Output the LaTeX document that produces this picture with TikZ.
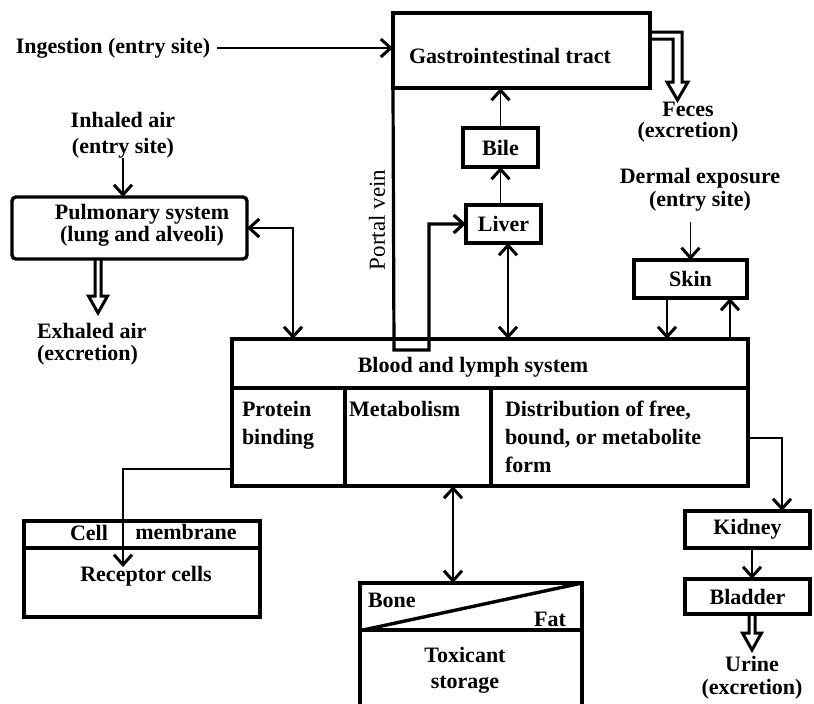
\documentclass[tikz,border=0pt]{standalone}
\usepackage{fontspec}
\setmainfont{Liberation Serif}
\usetikzlibrary{arrows.meta,fit,calc}
\begin{document}
\begin{tikzpicture}[x=0.5pt,y=-0.5pt,
  box/.style={draw, line width=1.7pt, inner sep=0pt, outer sep=0pt},
  heavy/.style={line width=1.7pt},
  txt/.style={font=\fontsize{11}{13}\selectfont\bfseries, inner sep=0pt, outer sep=0pt, align=center},
  tip/.tip={Straight Barb[length=5pt,width=9pt,line width=1.5pt]},
  arr/.style={line width=0.8pt, -tip},
  darr/.style={line width=0.8pt, tip-tip},
  thinarr/.style={line width=0.6pt, -tip},
  hollow/.style={line width=1.5pt, line join=miter},
  pics/fatdown/.style={code={
    \draw[hollow] (-3,0) -- (-3,{#1-17}) -- (-9.5,{#1-17}) -- (0,#1) -- (9.5,{#1-17}) -- (3,{#1-17}) -- (3,0);
  }}
]
\useasboundingbox (0,0) rectangle (814,703);

% ---------- boxes ----------
\node[box, fit={(393,13)(650,88)}] (gi) {};
\node[txt] (gitext) at (510,56) {Gastrointestinal tract};
\node[box, fit={(463,128)(538,167)}, label={[txt]center:Bile}] (bile) {};
\node[box, fit={(466,205)(541,243)}, label={[txt]center:Liver}] (liver) {};
\node[box, fit={(634,260)(747,298)}, label={[txt]center:Skin}] (skin) {};
\node[box, rounded corners=2pt, fit={(12,197)(247,259)}] (pulm) {};
\node[txt, font=\fontsize{11}{10}\selectfont\bfseries] (pulmtext) at (142,225) {Pulmonary system\\(lung and alveoli)};

\node[box, fit={(232,339)(748,486)}] (blood) {};
\draw[heavy] (232,388) -- (748,388);
\draw[heavy] (345,388) -- (345,486);
\draw[heavy] (491,388) -- (491,486);
\node[txt] (bloodtext) at (473,367) {Blood and lymph system};
\node[txt, font=\fontsize{11}{14}\selectfont\bfseries, align=left, anchor=north west] (protein) at (242,401) {Protein\\binding};
\node[txt, anchor=north west] (metab) at (349,401) {Metabolism};
\node[txt, font=\fontsize{11}{14}\selectfont\bfseries, align=left, anchor=north west] (distr) at (505,401) {Distribution of free,\\bound, or metabolite\\form};

\node[box, fit={(685,511)(810,548)}, label={[txt]center:Kidney}] (kidney) {};
\node[box, fit={(685,579)(810,614)}, label={[txt]center:Bladder}] (bladder) {};

\node[box, fit={(24,521)(260,617)}] (cell) {};
\draw[heavy] (24,548) -- (260,548);
\node[txt] (celltext) at (89,533) {Cell};
\node[txt] (membtext) at (186,532) {membrane};
\node[txt] (receptor) at (146,576) {Receptor cells};

\node[inner sep=0pt, outer sep=0pt, fit={(360,583)(582,712)}] (stor) {};
\draw[heavy] (stor.south west) -- (stor.north west) -- (stor.north east) -- (stor.south east);
\draw[heavy] (360,630) -- (582,630);
\draw[heavy] (363,630) -- (stor.north east);
\node[txt, anchor=west] (bone) at (368,600) {Bone};
\node[txt, anchor=east] (fat) at (566,619) {Fat};
\node[txt] (toxic) at (465,670) {Toxicant\\storage};

% ---------- free texts ----------
\node[txt] (ingest) at (113,48) {Ingestion (entry site)};
\node[txt] (inhaled) at (123,135) {Inhaled air\\(entry site)};
\node[txt, font=\fontsize{11}{11}\selectfont\bfseries, align=left, anchor=west] (exhaled) at (37,344) {Exhaled air\\(excretion)};
\node[txt, font=\fontsize{11}{10.5}\selectfont\bfseries] (feces) at (688,122) {Feces\\(excretion)};
\node[txt, font=\fontsize{11}{11.5}\selectfont\bfseries] (dermal) at (700,190) {Dermal exposure\\(entry site)};
\node[txt, font=\fontsize{11}{11.5}\selectfont\bfseries] (urine) at (752,678) {Urine\\(excretion)};
\node[font=\fontsize{11.5}{13}\selectfont, rotate=90, inner sep=0pt] (portal) at (377,220) {Portal vein};

% ---------- connectors ----------
\draw[arr, shorten <=3.5pt] (ingest.east) -- (ingest.east -| gi.west);
\draw[arr] (inhaled.south) -- (inhaled.south |- pulm.north);
\draw[darr] (pulm.east) -| ($(blood.north west)+(61,0)$);
\draw[arr] (bile.north) -- (bile.north |- gi.south);
\draw[arr] (bile.south |- liver.north) -- (bile.south);
\draw[darr] ($(liver.south)+(4.5,0)$) -- ($(liver.south |- blood.north)+(4.5,0)$);
\draw[arr, shorten <=5pt] (skin.north |- dermal.south) -- (skin.north);
\draw[arr] ($(skin.south)+(-23.5,0)$) -- ($(skin.south |- blood.north)+(-23.5,0)$);
\draw[arr] ($(skin.south |- blood.north)+(39.5,0)$) -- ($(skin.south)+(39.5,0)$);
\draw[line width=1.6pt, -{Straight Barb[length=5pt,width=9pt,line width=1.6pt]}]
  (gi.south west) -- (394,350) -- (429,350) |- (liver.west);
\draw[thinarr] ($(blood.west)+(0,56.5)$) -| ($(cell.north west)+(99,46)$);
\draw[thinarr] ($(blood.east)+(0,25.5)$) -| ($(kidney.north)+(34.5,0)$);
\draw[arr] ($(kidney.south)+(4.5,0)$) -- ($(bladder.north)+(4.5,0)$);
\draw[darr] ($(blood.south)+(-37,0)$) -- ($(blood.south |- stor.north)+(-37,0)$);

% ---------- hollow excretion arrows ----------
\pic at ($(pulm.south)+(-31.5,0)$) {fatdown=54};
\pic at ($(bladder.south)+(4.5,0)$) {fatdown=36};
\draw[hollow] ($(gi.north east)+(0,19)$) -- ++(32,0) -- ++(0,50) -- ++(6,0) -- ++(-10.5,18)
  -- ++(-10.5,-18) -- ++(6,0) -- ++(0,-43) -- ($(gi.north east)+(0,26)$);
\end{tikzpicture}
\end{document}
